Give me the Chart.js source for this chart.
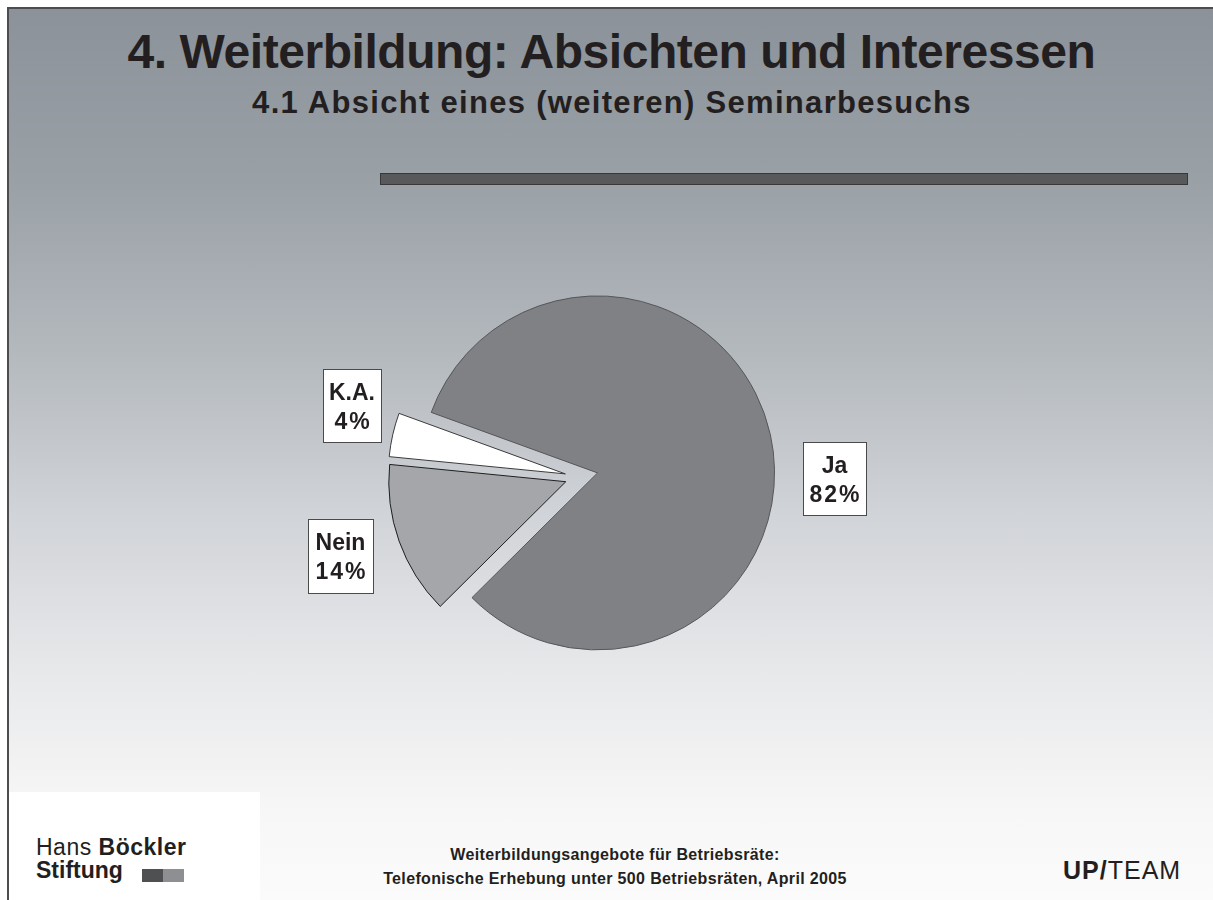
<!DOCTYPE html>
<html lang="de">
<head>
<meta charset="utf-8">
<title>4. Weiterbildung: Absichten und Interessen</title>
<script src="https://cdn.jsdelivr.net/npm/chart.js@4.4.1/dist/chart.umd.min.js"></script>
<style>
  html, body { margin: 0; padding: 0; background: #fff; }
  body { width: 1213px; height: 900px; position: relative; overflow: hidden;
         font-family: "Liberation Sans", Arial, sans-serif; color: #231f20; }
  .slide { position: absolute; left: 7px; top: 7px; right: 0; bottom: 0;
           border-top: 2px solid #4d4d4f; border-left: 2px solid #4d4d4f;
           background: linear-gradient(to bottom, #8b9299 0%, #99a0a6 19%, #b3b8bd 38%,
                       #d1d4d8 57%, #e8e9eb 75%, #f7f7f7 90%, #fbfbfb 100%); }
  .title { position: absolute; left: 0; width: 1223px; top: 24px; text-align: center;
           font-weight: bold; font-size: 48px; letter-spacing: -0.45px; }
  .subtitle { position: absolute; left: 0; width: 1224px; top: 85px; text-align: center;
              font-weight: bold; font-size: 31px; letter-spacing: 1.3px; }
  .rule { position: absolute; left: 380px; top: 173px; width: 806px; height: 10px;
          background: #58595b; border: 1px solid #38383a; }
  #chartWrap { position: absolute; left: 279px; top: 177px; width: 600px; height: 600px; }
  .logoBox { position: absolute; left: 9px; top: 792px; width: 251px; height: 108px; background: #fff; }
  .logo1 { position: absolute; left: 36px; top: 836px; font-size: 23px; line-height: 23px; letter-spacing: 0.5px; }
  .logo2 { position: absolute; left: 36px; top: 859px; font-size: 23px; line-height: 23px; font-weight: bold; }
  .mark1 { position: absolute; left: 142px; top: 869px; width: 21px; height: 13px; background: #4e5052; }
  .mark2 { position: absolute; left: 163px; top: 869px; width: 21px; height: 13px; background: #8d8f92; }
  .source { position: absolute; left: 0; width: 1230px; top: 843px; text-align: center;
            font-weight: bold; font-size: 16px; line-height: 24px; letter-spacing: 0.35px; }
  .upteam { position: absolute; left: 1063px; top: 858px; font-size: 25px; line-height: 25px; letter-spacing: 1px; }
</style>
</head>
<body>
<div class="slide"></div>
<div class="title">4. Weiterbildung: Absichten und Interessen</div>
<div class="subtitle">4.1 Absicht eines (weiteren) Seminarbesuchs</div>
<div class="rule"></div>

<div id="chartWrap"><canvas id="chartPie" width="600" height="600"></canvas></div>

<div class="logoBox"></div>
<div class="logo1">Hans <b>Böckler</b></div>
<div class="logo2">Stiftung</div>
<div class="mark1"></div>
<div class="mark2"></div>
<div class="source">Weiterbildungsangebote für Betriebsräte:<br>Telefonische Erhebung unter 500 Betriebsräten, April 2005</div>
<div class="upteam"><b>UP/</b>TEAM</div>

<script>
const categories = ['Ja', 'Nein', 'K.A.'];
const shares = [82, 14, 4];
const sliceColors = ['#808185', '#a5a6aa', '#ffffff'];

// pull slices apart along their bisector (like an exploded Excel pie)
const explodePlugin = {
  id: 'explode',
  beforeDatasetDraw(chart, args, opts) {
    const ctx = chart.ctx;
    args.meta.data.forEach((arc, i) => {
      const { startAngle, endAngle } = arc.getProps(['startAngle', 'endAngle'], true);
      const mid = (startAngle + endAngle) / 2;
      const d = opts.distance[i] || 0;
      ctx.save();
      ctx.translate(Math.cos(mid) * d, Math.sin(mid) * d);
      arc.draw(ctx, chart.chartArea);
      ctx.restore();
    });
    return false;
  }
};

// boxed labels "Name / xx%"
const boxLabels = {
  id: 'boxLabels',
  afterDatasetsDraw(chart, args, opts) {
    const ctx = chart.ctx;
    const arc = chart.getDatasetMeta(0).data[0];
    const cx = arc.x, cy = arc.y;
    ctx.save();
    chart.data.labels.forEach((name, i) => {
      const b = opts.boxes[i];
      const x = cx + b.dx - b.w / 2;
      const y = cy + b.dy - b.h / 2;
      ctx.fillStyle = '#ffffff';
      ctx.fillRect(x, y, b.w, b.h);
      ctx.strokeStyle = '#4a4a4a';
      ctx.lineWidth = 1;
      ctx.strokeRect(Math.round(x) + 0.5, Math.round(y) + 0.5, b.w, b.h);
      ctx.fillStyle = '#231f20';
      ctx.font = 'bold 23px "Liberation Sans", Arial, sans-serif';
      ctx.textAlign = 'center';
      ctx.textBaseline = 'alphabetic';
      ctx.letterSpacing = '0px';
      ctx.fillText(name, cx + b.dx, y + 31);
      ctx.letterSpacing = '2px';
      ctx.fillText(chart.data.datasets[0].data[i] + '%', cx + b.dx + 1, y + 60);
    });
    ctx.restore();
  }
};

new Chart(document.getElementById('chartPie'), {
  type: 'pie',
  data: {
    labels: categories,
    datasets: [{
      data: shares,
      backgroundColor: sliceColors,
      borderColor: ['#55565a', '#1e1e1e', '#3a3a3a'],
      borderWidth: 1
    }]
  },
  options: {
    responsive: false,
    animation: false,
    rotation: -70,
    radius: 177,
    layout: { padding: 0 },
    events: [],
    plugins: {
      legend: { display: false },
      tooltip: { enabled: false },
      explode: { distance: [19, 14, 14] },
      boxLabels: {
        boxes: [
          { dx: 255.5, dy: 1.5, w: 63, h: 73 },
          { dx: -238.5, dy: 79, w: 65, h: 74 },
          { dx: -227, dy: -71.5, w: 58, h: 73 }
        ]
      }
    }
  },
  plugins: [explodePlugin, boxLabels]
});
</script>
</body>
</html>
